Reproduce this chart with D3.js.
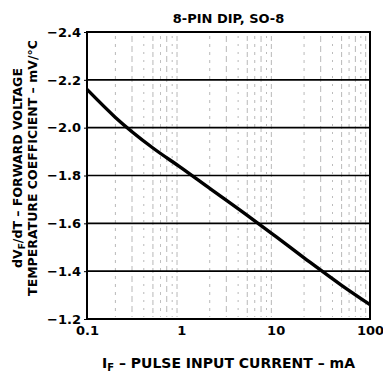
<!DOCTYPE html>
<html>
<head>
<meta charset="utf-8">
<script src="https://cdn.jsdelivr.net/npm/d3@7"></script>
<style>
  html, body { margin: 0; padding: 0; background: #fff; }
  svg { display: block; }
  text { font-family: "DejaVu Sans", "Liberation Sans", Arial, sans-serif; font-weight: bold; fill: #000; }
</style>
</head>
<body>
<svg id="chart" width="383" height="375"></svg>
<script>
// Forward current (mA) and temperature coefficient of forward voltage (mV/°C)
const currentMA = [0.1, 0.2, 0.5, 1, 2, 5, 10, 20, 50, 100];
const coeffMV = [-2.16, -2.043, -1.915, -1.832, -1.746, -1.633, -1.545, -1.456, -1.341, -1.26];

const yTicks = [-2.4, -2.2, -2.0, -1.8, -1.6, -1.4, -1.2];
const xTicks = [0.1, 1, 10, 100];
const xTickLabels = ["0.1", "1", "10", "100"];
const minorCurrents = [0.2, 0.3, 0.4, 0.5, 0.6, 0.7, 0.8, 0.9,
                       2, 3, 4, 5, 6, 7, 8, 9,
                       20, 30, 40, 50, 60, 70, 80, 90];

const svg = d3.select("#chart");
const m = { left: 87, right: 370, top: 32, bottom: 319 };

const x = d3.scaleLog().domain([0.1, 100]).range([m.left, m.right]);
const y = d3.scaleLinear().domain([-2.4, -1.2]).range([m.top, m.bottom]);

// faint broken vertical grid at minor decades
svg.append("g").selectAll("line").data(minorCurrents).join("line")
  .attr("x1", d => x(d)).attr("x2", d => x(d))
  .attr("y1", m.top + 4).attr("y2", m.bottom - 2)
  .attr("stroke", "#8a8a8a").attr("stroke-width", 0.8)
  .attr("stroke-dasharray", (d, i) => ["3,5", "6,4", "2,6", "5,3"][i % 4])
  .attr("opacity", 0.75);

// horizontal grid lines
svg.append("g").selectAll("line").data(yTicks.slice(1, -1)).join("line")
  .attr("x1", m.left).attr("x2", m.right)
  .attr("y1", d => y(d)).attr("y2", d => y(d))
  .attr("stroke", "#000").attr("stroke-width", 1.6);

// frame
svg.append("rect")
  .attr("x", m.left).attr("y", m.top)
  .attr("width", m.right - m.left).attr("height", m.bottom - m.top)
  .attr("fill", "none").attr("stroke", "#000").attr("stroke-width", 2);

// y axis
const yAxis = d3.axisLeft(y).tickValues(yTicks).tickSize(3).tickPadding(3)
  .tickFormat(d3.format(".1f"));
const gy = svg.append("g").attr("transform", `translate(${m.left},0)`).call(yAxis);
gy.select(".domain").remove();
gy.selectAll("text").style("font-size", "13px").attr("font-family", null);

// x axis
const xAxis = d3.axisBottom(x).tickValues(xTicks).tickSize(0).tickPadding(7)
  .tickFormat((d, i) => xTickLabels[i]);
const gx = svg.append("g").attr("transform", `translate(0,${m.bottom})`).call(xAxis);
gx.select(".domain").remove();
gx.selectAll("text").style("font-size", "13px").attr("font-family", null);

// coefficient curve
const line = d3.line().x((d, i) => x(currentMA[i])).y(d => y(d)).curve(d3.curveMonotoneX);
svg.append("path").datum(coeffMV)
  .attr("d", line).attr("fill", "none")
  .attr("stroke", "#000").attr("stroke-width", 3.4).attr("stroke-linecap", "butt");

// title
svg.append("text").attr("x", (m.left + m.right) / 2).attr("y", 23)
  .attr("text-anchor", "middle").style("font-size", "13px")
  .text("8-PIN DIP, SO-8");

// x axis title
const xt = svg.append("text").attr("x", (m.left + m.right) / 2).attr("y", 368)
  .attr("text-anchor", "middle").style("font-size", "14px");
xt.append("tspan").text("I");
xt.append("tspan").attr("dy", 3).style("font-size", "10px").text("F");
xt.append("tspan").attr("dy", -3).text(" – PULSE INPUT CURRENT – mA");

// y axis title (two lines)
const cy = 168;
const yt1 = svg.append("text").attr("transform", `translate(22,${cy}) rotate(-90)`)
  .attr("text-anchor", "middle").style("font-size", "12.5px");
yt1.append("tspan").text("dV");
yt1.append("tspan").attr("dy", 3).style("font-size", "9px").text("F");
yt1.append("tspan").attr("dy", -3).text("/dT – FORWARD VOLTAGE");
svg.append("text").attr("transform", `translate(37,${cy}) rotate(-90)`)
  .attr("text-anchor", "middle").style("font-size", "12.5px")
  .text("TEMPERATURE COEFFICIENT – mV/°C");
</script>
</body>
</html>
